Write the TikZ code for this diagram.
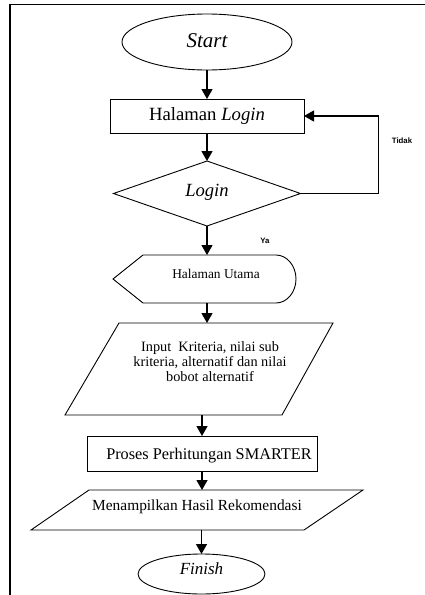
\documentclass[tikz,border=0pt]{standalone}
\usepackage{fontspec}
\setmainfont{Liberation Serif}
\newfontfamily\labfont{Liberation Sans}
\usetikzlibrary{shapes.geometric,arrows.meta,calc}
\begin{document}
\begin{tikzpicture}[x=1pt,y=-1pt,line width=0.9pt,
  arr/.style={draw, line width=1.3pt, -{Triangle[width=11pt,length=10pt]}},
  anchorbox/.style={inner sep=0pt, outer sep=0pt},
  lbl/.style={inner sep=0pt, font=\labfont\bfseries\fontsize{7.8}{9}\selectfont}]
\useasboundingbox (0,0) rectangle (425,595);
% frame
\draw[line width=1.8pt] (425,4.5) -- (10,4.5) -- (10,595);

% Start
\node[ellipse, draw, anchorbox, minimum width=170pt, minimum height=56pt] (start) at (207,42) {};
\node[font=\fontsize{21}{25}\selectfont\itshape] (startT) at (207,41) {Start};

% Halaman Login
\node[draw, anchorbox, minimum width=194pt, minimum height=34pt, font=\fontsize{18.7}{22}\selectfont] (login) at (207,116) {Halaman \textit{Login}};

% Decision
\node[anchorbox, minimum width=187pt, minimum height=65pt] (dec) at (207,193.5) {};
\draw (dec.north) -- (dec.east) -- (dec.south) -- (dec.west) -- cycle;
\node[font=\fontsize{18.6}{22}\selectfont\itshape] (decT) at (207,192) {Login};

% Halaman Utama (display)
\node[anchorbox, minimum width=183pt, minimum height=48pt] (utama) at (204.5,279) {};
\draw (113,279) -- (143,255) -- (276,255) .. controls (287,255) and (296,265.8) .. (296,279)
      .. controls (296,292.2) and (287,303) .. (276,303) -- (143,303) -- cycle;
\node[font=\fontsize{13.4}{16}\selectfont] (utamaT) at (216,274) {Halaman Utama};

% Input
\node[anchorbox, minimum width=268pt, minimum height=92pt] (in) at (199,369) {};
\draw (119,323) -- (333,323) -- (282,415) -- (65,415) -- cycle;
\node[align=center, font=\fontsize{14.3}{14.8}\selectfont] (inT) at (210,361.5)
  {Input\hspace{0.5em}Kriteria, nilai sub\\kriteria, alternatif dan nilai\\bobot alternatif};

% Proses
\node[draw, anchorbox, minimum width=230pt, minimum height=35pt] (proses) at (202,453.5) {};
\node[font=\fontsize{16.3}{19}\selectfont] (prosesT) at (209,455.5) {Proses Perhitungan SMARTER};

% Output
\node[anchorbox, minimum width=332pt, minimum height=40pt] (out) at (197,510) {};
\draw (89,490) -- (363,490) -- (304,530) -- (31,530) -- cycle;
\node[font=\fontsize{15.4}{18}\selectfont] (outT) at (197,507) {Menampilkan Hasil Rekomendasi};

% Finish
\node[ellipse, draw, anchorbox, minimum width=127pt, minimum height=40pt] (finish) at (201.5,574) {};
\node[font=\fontsize{17}{20}\selectfont\itshape] (finishT) at (201.5,569) {Finish};

% labels
\node[lbl] (tidak) at (402,141) {Tidak};
\node[lbl] (ya) at (265,241) {Ya};

% connectors
\draw[arr] (start) -- (login);
\draw[arr] (login) -- (dec.north);
\draw[arr] (dec.east) -- ++(78,0) |- (login.east);
\draw[arr] (dec.south) -- (dec.south |- utama.north);
\draw[arr] (dec.south |- utama.south) -- (dec.south |- in.north);
\draw[arr] (proses.north |- in.south) -- (proses.north);
\draw[arr] (proses.south) -- (proses.south |- out.north);
\draw[arr] (finish.north |- out.south) -- (finish.north);
\end{tikzpicture}
\end{document}
